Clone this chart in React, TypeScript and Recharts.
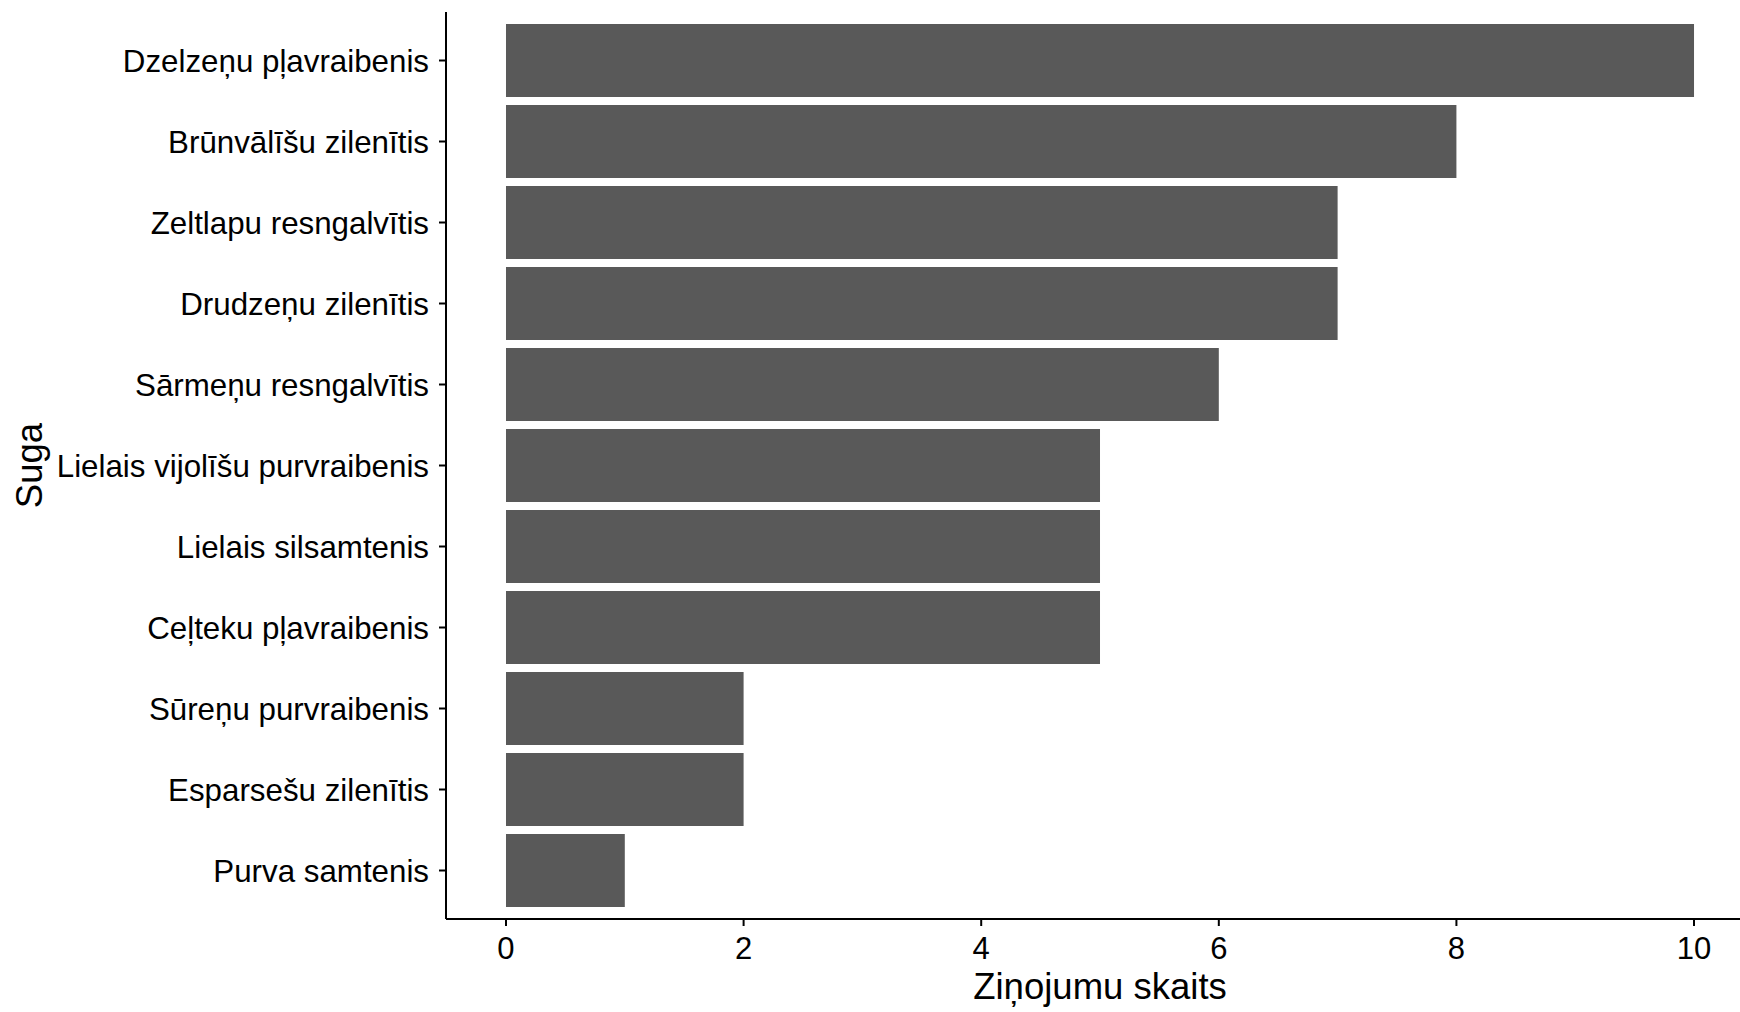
import React from 'react';
import { BarChart, Bar, XAxis, YAxis, Label } from 'recharts';

const species: string[] = [
  'Dzelzeņu pļavraibenis',
  'Brūnvālīšu zilenītis',
  'Zeltlapu resngalvītis',
  'Drudzeņu zilenītis',
  'Sārmeņu resngalvītis',
  'Lielais vijolīšu purvraibenis',
  'Lielais silsamtenis',
  'Ceļteku pļavraibenis',
  'Sūreņu purvraibenis',
  'Esparsešu zilenītis',
  'Purva samtenis',
];
const counts: number[] = [10, 8, 7, 7, 6, 5, 5, 5, 2, 2, 1];
const xTicks: number[] = [0, 2, 4, 6, 8, 10];

const data = species.map((s, i) => ({ suga: s, skaits: counts[i] }));

const FONT = '"Liberation Sans", Arial, Helvetica, sans-serif';

export default function App() {
  return (
    <div style={{ position: 'absolute', left: 0, top: 0, width: 1740, height: 1012, background: '#fff' }}>
      <BarChart
        width={1740}
        height={1012}
        data={data}
        layout="vertical"
        margin={{ top: 12, right: 0, bottom: 0, left: 0 }}
        barSize={73}
      >
        <XAxis
          type="number"
          dataKey="skaits"
          domain={[-0.505, 10.387]}
          allowDataOverflow
          ticks={xTicks}
          height={93}
          tickSize={7}
          tickMargin={11}
          axisLine={{ stroke: '#000', strokeWidth: 2 }}
          tickLine={{ stroke: '#000', strokeWidth: 2 }}
          tick={{ fill: '#000', fontSize: 31, fontFamily: FONT }}
        >
          <Label
            content={(props: any) => {
              const vb = props.viewBox || { x: 446, y: 919, width: 1294 };
              return (
                <text
                  x={vb.x + 654}
                  y={vb.y + 80}
                  textAnchor="middle"
                  fontSize={36.5}
                  fontFamily={FONT}
                  fill="#000"
                >
                  Ziņojumu skaits
                </text>
              );
            }}
          />
        </XAxis>
        <YAxis
          type="category"
          dataKey="suga"
          width={446}
          padding={{ top: 8, bottom: 8 }}
          tickSize={7}
          tickMargin={10}
          interval={0}
          axisLine={{ stroke: '#000', strokeWidth: 2 }}
          tickLine={{ stroke: '#000', strokeWidth: 2 }}
          tick={{ fill: '#000', fontSize: 31.3, fontFamily: FONT }}
        >
          <Label
            content={(props: any) => {
              const vb = props.viewBox || { x: 0, y: 12, height: 907 };
              const cx = 42;
              const cy = vb.y + vb.height / 2;
              return (
                <text
                  x={cx}
                  y={cy}
                  transform={`rotate(-90 ${cx} ${cy})`}
                  textAnchor="middle"
                  fontSize={36.5}
                  fontFamily={FONT}
                  fill="#000"
                >
                  Suga
                </text>
              );
            }}
          />
        </YAxis>
        <Bar dataKey="skaits" fill="#595959" isAnimationActive={false} />
      </BarChart>
    </div>
  );
}
